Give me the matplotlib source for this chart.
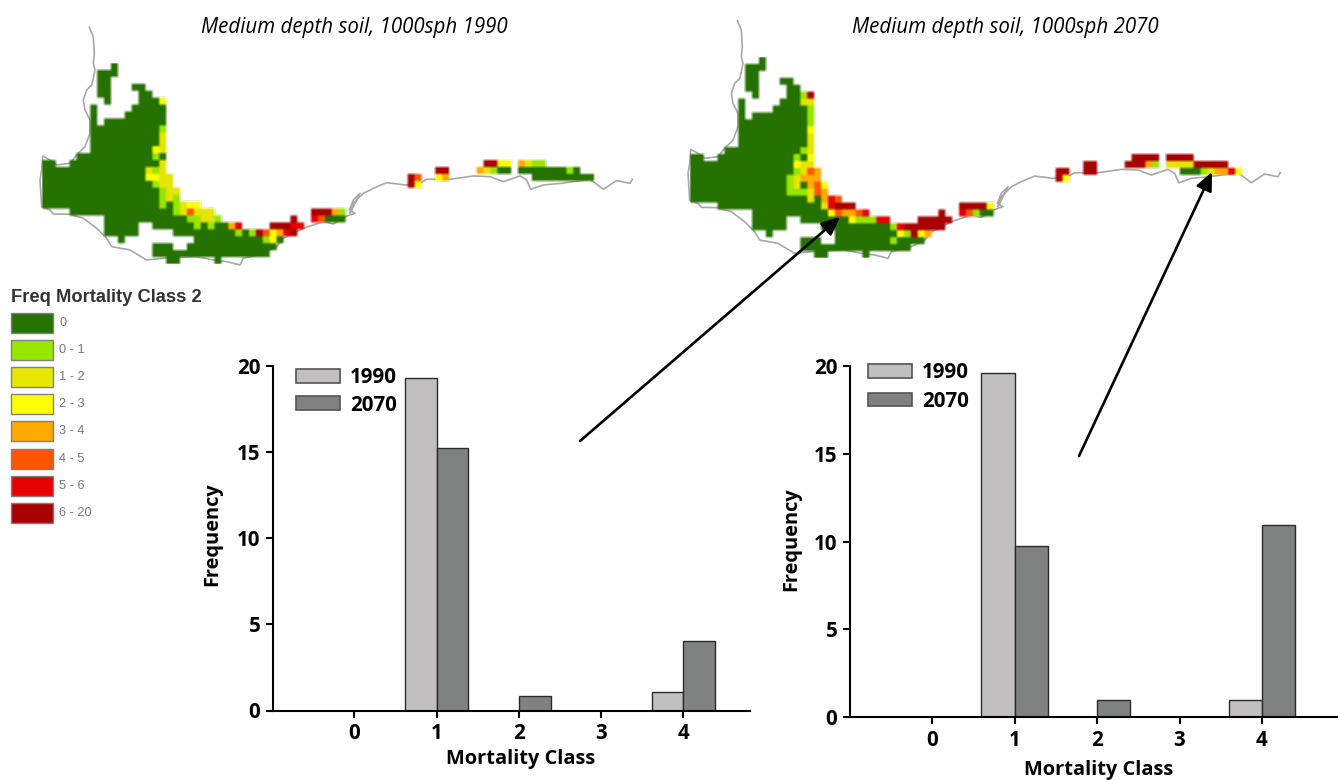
import re
import numpy as np
import matplotlib
matplotlib.use("Agg")
import matplotlib.pyplot as plt
from matplotlib.colors import ListedColormap, BoundaryNorm
from matplotlib.patches import Rectangle

W, H = 1338, 780

# ---------- data ----------
classes = ["0", "1", "2", "3", "4"]
left_1990 = [0, 19.3, 0, 0, 1.05]
left_2070 = [0, 15.2, 0.85, 0, 4.05]
right_1990 = [0, 19.6, 0, 0, 1.0]
right_2070 = [0, 9.75, 1.0, 0, 10.95]
y_ticks = [0, 5, 10, 15, 20]

legend_labels = ["0", "0 - 1", "1 - 2", "2 - 3", "3 - 4", "4 - 5", "5 - 6", "6 - 20"]
legend_colors = ["#267300", "#98e600", "#e6e600", "#ffff00", "#ffaa00", "#ff5500", "#e60000", "#a80000"]

# One entry per grid row: "col=class" or "first-last=class"
map_1990 = [
    "10=0", "8-10=0", "8-9=0", "8-9=0 13-14=0", "8-9=0 14-15=0",
    "9=0 14-16=0 17=3", "7=0 13-17=0", "7=0 12-17=0", "7=0 9-17=0",
    "7-16=0 17=1", "7-16=0 17=2", "7-16=0 17=2", "7-15=0 16=3 17=2",
    "5-15=0 16=1 17=0",
    "0-1=0 4-16=0 17=2 64-65=7 66-67=3 69=4 70=2 71-72=1",
    "0-14=0 15=2 16=1 17=2 57-58=7 63=4 64=2 65=1 66-67=0 69-75=0 76=1 77=0",
    "0-14=0 15-16=3 17-18=2 53=7 54=5 57=3 58=4 71-79=0",
    "0-15=0 16=1 17-18=2 53=7 54=3",
    "0-16=0 17=1 18-19=2", "0-16=0 17=1 18=2 19=1",
    "0-16=0 17=1 18=0 19=1 20=2 21-22=3",
    "4-18=0 19=1 20=2 21=5 22-24=2 39-41=7 42=4 43=1",
    "9-20=0 21-22=1 23-24=2 25=1 36=7 39=6 40=5 41-43=0",
    "9-13=0 16-21=0 22=1 23=0 24=1 25-26=0 27=4 28=6 33-35=7 36-37=6",
    "9-13=0 19-27=0 28=1 29=0 30=1 31=7 32=5 33=3 34=4 35=6 36=7",
    "11=0 22-31=0 32=1 33=3 34=0",
    "16-18=0 21-33=0", "16-32=0", "18-19=0 25=0",
]
map_2070 = [
    "10=0", "8-10=0", "8-9=0", "8-9=0 13-14=0", "8-9=0 14-15=0",
    "9=0 14-15=0 16=1 17=7", "7=0 13-15=0 16-17=2", "7=0 12-16=0 17=1",
    "7=0 9-16=0 17=1", "7-16=0 17=1", "7-16=0 17=3", "7-16=0 17=2",
    "7-16=0 17=2", "5-15=0 16=1 17=2",
    "0-1=0 4-14=0 15=1 16=0 17=3 64-67=7 69-72=7",
    "0-14=0 15=3 16-17=2 57-58=7 63-65=7 66=4 67=1 69-72=2 73-77=7",
    "0-14=0 15=1 16=2 17=5 18=4 53-54=7 57-58=7 71-73=0 74=1 75=2 76-77=4 78=6 79=3",
    "0-13=0 14=1 15=2 16-18=4 53=7 54=3",
    "0-13=0 14=1 15=2 16=0 17=4 18=5 19=3",
    "0-13=0 14-16=1 17=2 18=5 19=4",
    "0-16=0 17=2 18=0 19=4 20=6 21=5",
    "4-18=0 19=2 20=6 21-23=7 39-42=7 43=3",
    "9-19=0 20=3 21=5 22-23=4 24=5 25=6 36=7 39=6 40=5 41=1 42-43=0",
    "9-13=0 16-22=0 23=3 24-26=1 27-28=6 33-37=7",
    "9-13=0 19-28=0 29=1 30=6 31-36=7",
    "11=0 21-29=0 30=3 31=1 32=7 33=3 34=4",
    "16-18=0 21-28=0 29=1 30-33=0", "16-31=0", "18-19=0 25=0",
]

# Coastline, in third-of-a-pixel units from the crop of the first map
coast_west_x = [178, 190, 193, 190, 195, 190, 185, 170, 160, 165, 180, 180, 165, 140, 120, 80, 60, 38, 35, 30,
                35, 60, 70, 120, 160, 200, 230, 245, 300, 350, 400, 450, 500, 550, 590, 630, 640, 700, 740,
                760, 820, 880, 910, 945, 975, 958, 970, 990]
coast_west_y = [22, 50, 100, 130, 150, 175, 195, 210, 240, 270, 300, 340, 380, 405, 430, 435, 420, 408, 450, 480,
                560, 570, 582, 583, 595, 625, 655, 680, 690, 720, 715, 712, 710, 720, 725, 735, 715, 700, 680,
                655, 625, 605, 612, 590, 580, 570, 540, 520]
coast_east_x = [30, 40, 70, 100, 140, 195, 240, 260, 330, 400, 450, 490, 540, 560, 572, 610, 665, 750, 790, 830, 870, 877]
coast_east_y = [220, 190, 160, 145, 128, 135, 130, 118, 118, 108, 110, 125, 108, 120, 148, 135, 130, 118, 148, 122, 130, 118]

coast_col = (np.r_[coast_west_x, np.array(coast_east_x) + 930] - 36) / 20.7
coast_row = (np.r_[coast_west_y, np.array(coast_east_y) + 360] - 133) / 20.7


def parse_map(rows, n_cols=90):
    grid = np.full((len(rows), n_cols), np.nan)
    for r, row in enumerate(rows):
        for a, b, v in re.findall(r"(\d+)(?:-(\d+))?=(\d)", row):
            grid[r, int(a):int(b or a) + 1] = int(v)
    return grid


def soft_rgba(grid, cmap, norm, k=7):
    rgba = cmap(norm(np.ma.masked_invalid(grid)))
    rgba[np.isnan(grid)] = 0
    rgba[..., :3] *= rgba[..., 3:]
    up = np.repeat(np.repeat(rgba, k, axis=0), k, axis=1)
    box = np.ones(3) / 3
    for axis in (0, 1):
        up = np.apply_along_axis(lambda v: np.convolve(v, box, mode="same"), axis, up)
    a = up[..., 3:]
    up[..., :3] = np.where(a > 0, up[..., :3] / np.maximum(a, 1e-6), 0)
    return np.clip(up, 0, 1)


def px_axes(fig, left, top, right, bottom, **kw):
    return fig.add_axes([left / W, 1 - bottom / H, (right - left) / W, (bottom - top) / H], **kw)


plt.rcParams["font.family"] = ["Open Sans", "DejaVu Sans"]
fig = plt.figure(figsize=(W / 100, H / 100), dpi=100, facecolor="white")

# ---------- maps ----------
CELL = 6.9
cmap = ListedColormap(legend_colors)
norm = BoundaryNorm(np.arange(-0.5, 8.5), 8)
for rows, x0, y0 in [(map_1990, 42, 64.3), (map_2070, 690, 57.7)]:
    c0, c1, r0, r1 = -2, 90, -6, 31
    ax = px_axes(fig, x0 + c0 * CELL, y0 + r0 * CELL, x0 + c1 * CELL, y0 + r1 * CELL)
    ax.plot(coast_col, coast_row, color="#a8a8a8", lw=1.2, zorder=1)
    grid = parse_map(rows)
    ax.imshow(soft_rgba(grid, cmap, norm), extent=(0, grid.shape[1], grid.shape[0], 0),
              interpolation="bilinear", aspect="auto", zorder=2)
    ax.set_xlim(c0, c1)
    ax.set_ylim(r1, r0)
    ax.axis("off")

# ---------- bar charts ----------
TICK_FS = 14.8
LABEL_FS = 14.4
def chart(left, right, y0, y20, tick0, step, v1, v2, width, leg_anchor, leg_space, xlabel_y, ylabel_x, ylabel_yc):
    xmin = (left - tick0) / step
    xmax = (right - tick0) / step
    ax = px_axes(fig, left, y20, right, y0)
    ax.patch.set_alpha(0)
    x = np.arange(len(classes))
    ec = "#2a2a2a"
    ax.bar(x - width / 2, v1, width, color="#c1bfc0", edgecolor=ec, linewidth=1.0, label="1990")
    ax.bar(x + width / 2, v2, width, color="#808281", edgecolor=ec, linewidth=1.0, label="2070")
    ax.set_xlim(xmin, xmax)
    ax.set_ylim(0, 20)
    ax.set_xticks(x, classes)
    ax.set_yticks(y_ticks)
    for s in ["top", "right"]:
        ax.spines[s].set_visible(False)
    for s in ["left", "bottom"]:
        ax.spines[s].set_linewidth(1.5)
    ax.tick_params(axis="both", length=5, width=1.5, labelsize=TICK_FS, pad=4)
    for t in ax.get_xticklabels() + ax.get_yticklabels():
        t.set_fontweight("bold")
    fig.text(ylabel_x / W, 1 - ylabel_yc / H, "Frequency", rotation=90, fontsize=LABEL_FS,
             fontweight="bold", ha="center", va="center")
    fig.text((tick0 + 2 * step + 2) / W, 1 - xlabel_y / H, "Mortality Class", fontsize=LABEL_FS,
             fontweight="bold", ha="center", va="center")
    leg = ax.legend(loc="upper left", bbox_to_anchor=(leg_anchor[0] / W, 1 - leg_anchor[1] / H),
                    bbox_transform=fig.transFigure, frameon=False, borderpad=0, borderaxespad=0,
                    handlelength=2.12, handleheight=0.65, handletextpad=0.5, labelspacing=leg_space,
                    prop={"family": "Open Sans", "weight": "bold", "size": TICK_FS})
    for h in leg.legend_handles:
        h.set_edgecolor("#555555")
        h.set_linewidth(1.2)
    return ax

chart(272.9, 750, 710.5, 365.7, 354.3, 82.3, left_1990, left_2070, 0.385, (296, 367), 0.32, 759, 212, 534)
chart(849.7, 1338, 717.3, 366, 932, 82.5, right_1990, right_2070, 0.405, (868, 362), 0.37, 770, 791, 539)

# ---------- overlay: titles, colour key, arrows ----------
ov = px_axes(fig, 0, 0, W, H)
ov.set_xlim(0, W)
ov.set_ylim(H, 0)
ov.axis("off")
ov.patch.set_alpha(0)
ov.text(354.5, 27, "Medium depth soil, 1000sph 1990", style="italic", fontsize=14.8, ha="center", va="center")
ov.text(1005.5, 27, "Medium depth soil, 1000sph 2070", style="italic", fontsize=14.8, ha="center", va="center")

ov.text(11, 297, "Freq Mortality Class 2", family="Liberation Sans", weight="bold", fontsize=13.2,
        color="#333333", ha="left", va="center")
for i, (lab, col) in enumerate(zip(legend_labels, legend_colors)):
    yc = 322.5 + 27.2 * i
    ov.add_patch(Rectangle((11, yc - 10), 41.5, 20, facecolor=col, edgecolor="#808080", linewidth=1.0))
    ov.text(59, yc, lab, family="Liberation Sans", fontsize=9.2, color="#777777", ha="left", va="center")

for start, tip in [((580, 441), (840, 217)), ((1079, 456), (1212, 172))]:
    ov.annotate("", xy=tip, xytext=start,
                arrowprops=dict(arrowstyle="-|>,head_length=0.55,head_width=0.25", color="black",
                                lw=1.9, shrinkA=0, shrinkB=0, mutation_scale=20))

fig.savefig("out.png", dpi=100, facecolor="white")
